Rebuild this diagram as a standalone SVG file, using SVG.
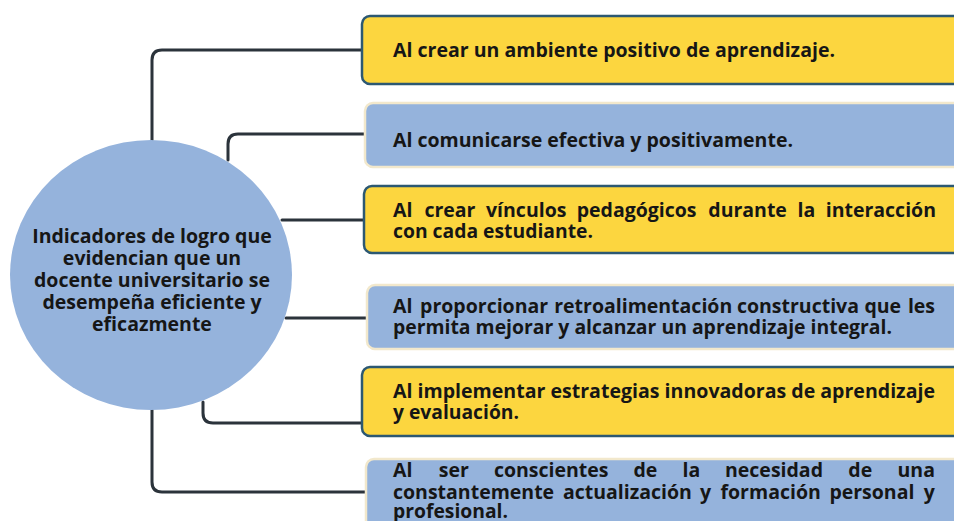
<svg xmlns="http://www.w3.org/2000/svg" width="954" height="521" viewBox="0 0 954 521">
<style>
.t{font-family:"Open Sans","Noto Sans","Liberation Sans",sans-serif;font-weight:700;font-size:19.5px;fill:#161616}
.c{text-anchor:middle}
.y{fill:#FCD63F;stroke:#2C5872;stroke-width:2.5}
.b{fill:#95B3DC;stroke:#F2E8CC;stroke-width:2.5}
.ln{fill:none;stroke:#2B333B;stroke-width:3;stroke-linecap:round;stroke-linejoin:round}
</style>
<rect width="954" height="521" fill="#ffffff"/>
<g id="connectors">
<path class="ln" d="M152 140 V60 Q152 50 162 50 H362"/>
<path class="ln" d="M228 160 V144 Q228 134 238 134 H368"/>
<path class="ln" d="M282 220 H364"/>
<path class="ln" d="M286 318 H367"/>
<path class="ln" d="M203 402 V413 Q203 423 213 423 H362"/>
<path class="ln" d="M152 410 V482 Q152 492 162 492 H366"/>
</g>
<g id="center">
<ellipse cx="151" cy="275" rx="141" ry="135" fill="#95B3DC"/>
<text class="t c" x="152" y="243">Indicadores de logro que</text>
<text class="t c" x="152" y="265">evidencian que un</text>
<text class="t c" x="152" y="287">docente universitario se</text>
<text class="t c" x="152" y="309">desempeña eficiente y</text>
<text class="t c" x="152" y="331">eficazmente</text>
</g>
<g id="n1">
<rect class="y" x="362" y="16" width="610" height="68" rx="8"/>
<text class="t" x="393" y="57" textLength="442" lengthAdjust="spacingAndGlyphs">Al crear un ambiente positivo de aprendizaje.</text>
</g>
<g id="n2">
<rect class="b" x="365" y="103" width="610" height="64" rx="8"/>
<text class="t" x="393" y="147" textLength="400" lengthAdjust="spacingAndGlyphs">Al comunicarse efectiva y positivamente.</text>
</g>
<g id="n3">
<rect class="y" x="364" y="186" width="610" height="67" rx="8"/>
<text class="t" y="217"><tspan x="393">Al</tspan><tspan x="424.4">crear</tspan><tspan x="486">vínculos</tspan><tspan x="576.7">pedagógicos</tspan><tspan x="708.3">durante</tspan><tspan x="797.6">la</tspan><tspan x="825.7">interacción</tspan></text>
<text class="t" x="393" y="238" textLength="200" lengthAdjust="spacingAndGlyphs">con cada estudiante.</text>
</g>
<g id="n4">
<rect class="b" x="367" y="285" width="610" height="64" rx="8"/>
<text class="t" y="313"><tspan x="393">Al</tspan><tspan x="420.1">proporcionar</tspan><tspan x="554.2">retroalimentación</tspan><tspan x="736.9">constructiva</tspan><tspan x="864.4">que</tspan><tspan x="907.9">les</tspan></text>
<text class="t" x="393" y="334" textLength="499" lengthAdjust="spacingAndGlyphs">permita mejorar y alcanzar un aprendizaje integral.</text>
</g>
<g id="n5">
<rect class="y" x="362" y="367" width="610" height="69" rx="8"/>
<text class="t" x="393" y="398" textLength="542" lengthAdjust="spacingAndGlyphs">Al implementar estrategias innovadoras de aprendizaje</text>
<text class="t" x="393" y="419" textLength="126" lengthAdjust="spacingAndGlyphs">y evaluación.</text>
</g>
<g id="n6">
<rect class="b" x="366" y="459" width="610" height="80" rx="8"/>
<text class="t" y="477"><tspan x="393">Al</tspan><tspan x="438.7">ser</tspan><tspan x="493.9">conscientes</tspan><tspan x="633.4">de</tspan><tspan x="682.6">la</tspan><tspan x="725">necesidad</tspan><tspan x="848.3">de</tspan><tspan x="897.5">una</tspan></text>
<text class="t" y="498.5"><tspan x="393">constantemente</tspan><tspan x="562.9">actualización</tspan><tspan x="700">y</tspan><tspan x="720.5">formación</tspan><tspan x="829.4">personal</tspan><tspan x="923.8">y</tspan></text>
<text class="t" x="393" y="518" textLength="115" lengthAdjust="spacingAndGlyphs">profesional.</text>
</g>
</svg>
